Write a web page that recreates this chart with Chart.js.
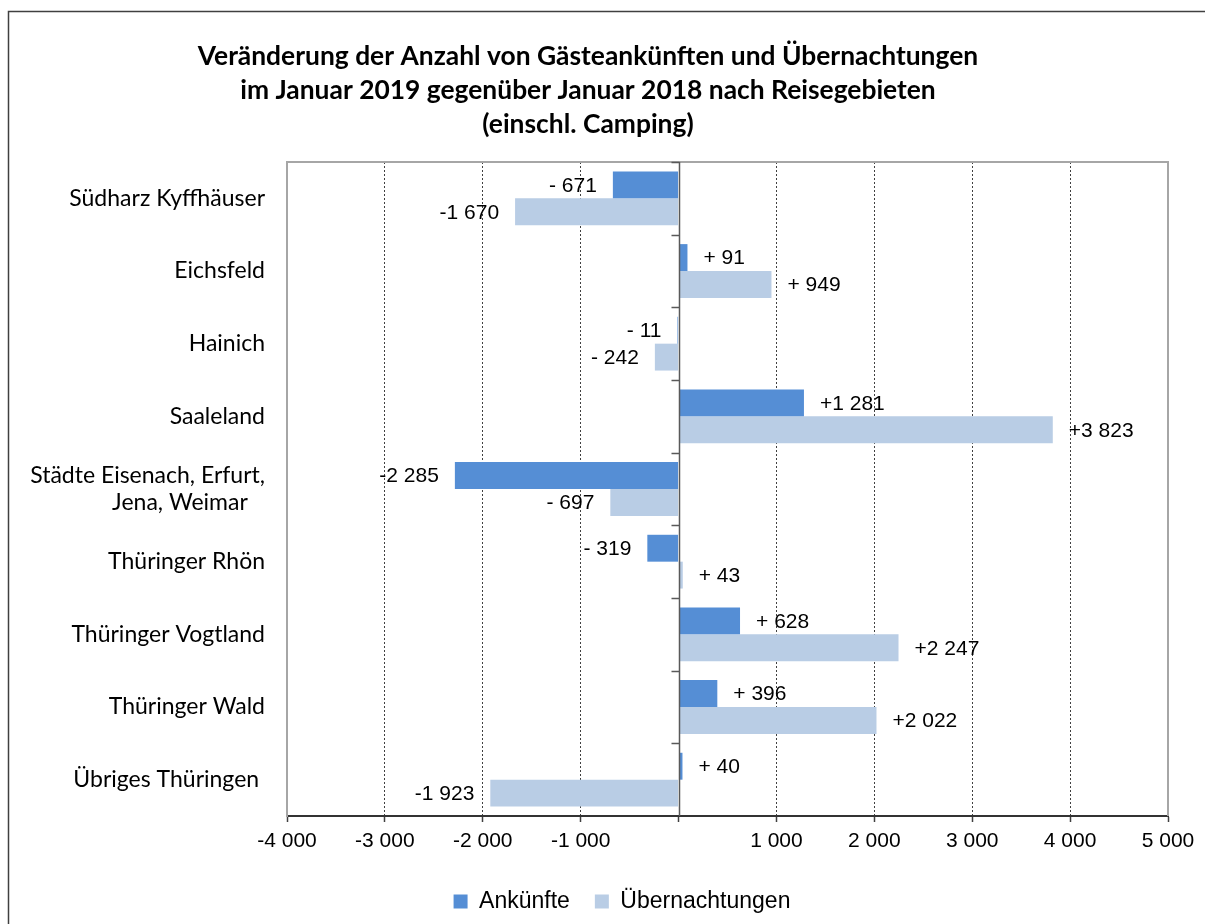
<!DOCTYPE html>
<html lang="de">
<head>
<meta charset="utf-8">
<title>Gästeankünfte und Übernachtungen Januar 2019</title>
<script src="https://cdn.jsdelivr.net/npm/chart.js@4.4.0/dist/chart.umd.min.js"></script>
<style>
  html, body { margin: 0; padding: 0; background: #fff; }
  #wrap { position: relative; width: 1205px; height: 924px; }
</style>
</head>
<body>
<div id="wrap"><canvas id="chart" width="1205" height="924"></canvas></div>
<script>
// -- data --
const regions = [
  'Südharz Kyffhäuser',
  'Eichsfeld',
  'Hainich',
  'Saaleland',
  ['Städte Eisenach, Erfurt,', 'Jena, Weimar\u00a0\u00a0\u00a0'],
  'Thüringer Rhön',
  'Thüringer Vogtland',
  'Thüringer Wald',
  'Übriges Thüringen\u00a0',
];
const arrivals   = [-671, 91, -11, 1281, -2285, -319, 628, 396, 40];
const overnights = [-1670, 949, -242, 3823, -697, 43, 2247, 2022, -1923];
const seriesNames = ['Ankünfte', 'Übernachtungen'];
const titleLines = [
  'Veränderung der Anzahl von Gästeankünften und Übernachtungen',
  'im Januar 2019 gegenüber Januar 2018 nach Reisegebieten',
  '(einschl. Camping)',
];
const xMin = -4000, xMax = 5000, xStep = 1000;

const COLORS = { arrivals: '#558ed5', overnights: '#b9cde5' };
const ARIAL = '"Liberation Sans", Arial, sans-serif';
const CALIBRI = 'Lato, "Open Sans", sans-serif';

// "+1 281", "- 671", "+ 40" (Excel style "+# ##0")
function labelFmt(v) {
  const a = Math.abs(v);
  const th = Math.floor(a / 1000);
  const rest = th ? String(a % 1000).padStart(3, '0') : String(a);
  return (v < 0 ? '-' : '+') + (th ? th : '') + ' ' + rest;
}

function tickFmt(v) {
  if (v === 0) return '';
  const a = Math.abs(v);
  return (v < 0 ? '-' : '') + Math.floor(a / 1000) + ' ' + String(a % 1000).padStart(3, '0');
}

// outer frame + plot frame (top / right)
const framePlugin = {
  id: 'frame',
  beforeDraw(chart) {
    const ctx = chart.ctx;
    ctx.save();
    ctx.strokeStyle = '#404040';
    ctx.lineWidth = 1.5;
    ctx.strokeRect(8.5, 11.5, chart.width + 50, chart.height + 50);
    ctx.restore();
  },
  beforeDatasetsDraw(chart) {
    const { ctx, chartArea: a } = chart;
    ctx.save();
    ctx.strokeStyle = '#a6a6a6';
    ctx.lineWidth = 2;
    ctx.beginPath();
    ctx.moveTo(a.left, a.top);
    ctx.lineTo(a.right, a.top);
    ctx.lineTo(a.right, a.bottom);
    ctx.stroke();
    ctx.restore();
  },
};

// vertical zero axis with category tick marks
const zeroAxisPlugin = {
  id: 'zeroAxis',
  afterDatasetsDraw(chart) {
    const { ctx, chartArea: a, scales: { x, y } } = chart;
    const x0 = Math.round(x.getPixelForValue(0)) + 0.5;
    const n = regions.length;
    const band = (a.bottom - a.top) / n;
    ctx.save();
    ctx.strokeStyle = '#595959';
    ctx.lineWidth = 1.5;
    ctx.beginPath();
    ctx.moveTo(x0, a.top);
    ctx.lineTo(x0, a.bottom);
    for (let i = 0; i < n; i++) {
      const yy = Math.round(y.getPixelForValue(i) - band / 2) + 0.5;
      ctx.moveTo(x0 - 8, yy);
      ctx.lineTo(x0, yy);
    }
    ctx.stroke();
    ctx.restore();
  },
};

// value labels at the outer end of each bar
const valueLabelPlugin = {
  id: 'valueLabels',
  afterDatasetsDraw(chart) {
    const ctx = chart.ctx;
    ctx.save();
    ctx.font = '21px ' + ARIAL;
    ctx.fillStyle = '#000';
    ctx.textBaseline = 'middle';
    chart.data.datasets.forEach((ds, di) => {
      chart.getDatasetMeta(di).data.forEach((bar, i) => {
        const v = ds.data[i];
        const neg = v < 0;
        ctx.textAlign = neg ? 'right' : 'left';
        ctx.fillText(labelFmt(v), bar.x + (neg ? -16 : 16), bar.y + 1);
      });
    });
    ctx.restore();
  },
};

// legend sits a bit right of centre in the original
const legendShiftPlugin = {
  id: 'legendShift',
  afterLayout(chart) {
    const lg = chart.legend;
    if (!lg) return;
    lg.left += 34;
    lg.right += 34;
  },
};

new Chart(document.getElementById('chart'), {
  type: 'bar',
  data: {
    labels: regions,
    datasets: [
      {
        label: seriesNames[0],
        data: arrivals,
        backgroundColor: COLORS.arrivals,
        borderWidth: 0,
        categoryPercentage: 0.74,
        barPercentage: 1.0,
      },
      {
        label: seriesNames[1],
        data: overnights,
        backgroundColor: COLORS.overnights,
        borderWidth: 0,
        categoryPercentage: 0.74,
        barPercentage: 1.0,
      },
    ],
  },
  options: {
    indexAxis: 'y',
    responsive: false,
    animation: false,
    events: [],
    layout: { padding: { top: 11, left: 8, right: 37, bottom: 1 } },
    plugins: {
      title: {
        display: true,
        text: titleLines,
        color: '#000',
        font: { family: CALIBRI, size: 26.4, weight: 'bold', lineHeight: '34px' },
        padding: { top: 28, bottom: 21 },
      },
      legend: {
        display: true,
        position: 'bottom',
        labels: {
          color: '#000',
          font: { family: ARIAL, size: 23 },
          boxWidth: 14,
          boxHeight: 14,
          padding: 25,
        },
      },
      tooltip: { enabled: false },
    },
    scales: {
      x: {
        type: 'linear',
        min: xMin,
        max: xMax,
        ticks: {
          stepSize: xStep,
          color: '#000',
          font: { family: ARIAL, size: 21 },
          padding: 7,
          maxRotation: 0,
          autoSkip: false,
          callback: v => tickFmt(v),
        },
        grid: {
          color: c => (c.tick && (c.tick.value === 0 || c.tick.value === xMin || c.tick.value === xMax)) ? 'rgba(0,0,0,0)' : '#404040',
          lineWidth: 1,
          drawTicks: true,
          tickLength: 6,
          tickColor: '#404040',
          tickWidth: 1.5,
        },
        border: { display: true, color: '#333', width: 2, dash: [2, 2] },
        afterFit(scale) {
          scale.height = 49;
          scale.paddingLeft = 0;
          scale.paddingRight = 0;
        },
      },
      y: {
        type: 'category',
        offset: true,
        ticks: {
          color: '#000',
          font: { family: CALIBRI, size: 23, lineHeight: 1.2 },
          padding: 22,
          autoSkip: false,
        },
        grid: { display: false, drawTicks: false },
        border: { display: true, color: '#a6a6a6', width: 2 },
        afterFit(scale) {
          scale.width = 279;
        },
      },
    },
  },
  plugins: [framePlugin, zeroAxisPlugin, valueLabelPlugin, legendShiftPlugin],
});
</script>
</body>
</html>
